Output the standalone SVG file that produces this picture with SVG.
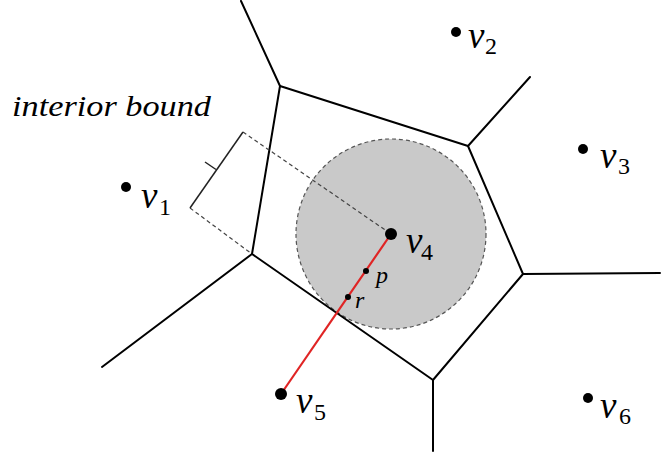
<svg xmlns="http://www.w3.org/2000/svg" width="662" height="455" viewBox="0 0 662 455">
<style>
.edge{stroke:#000;stroke-width:2;fill:none;stroke-linecap:round;stroke-linejoin:round}
.dash{stroke:#444;stroke-width:1.2;fill:none;stroke-dasharray:4 3}
.brk{stroke:#222;stroke-width:1.5;fill:none}
.red{stroke:#e02424;stroke-width:2.2;fill:none}
.v{font-family:"Liberation Serif","DejaVu Serif",serif;font-style:italic;font-size:37px;fill:#000}
.s{font-family:"Liberation Serif","DejaVu Serif",serif;font-size:24px;fill:#000}
.l{font-family:"Liberation Serif","DejaVu Serif",serif;font-style:italic;font-size:24px;fill:#000}
.t{font-family:"Liberation Serif","DejaVu Serif",serif;font-style:italic;font-size:29px;fill:#000}
.dot{fill:#000}
</style>
<rect width="662" height="455" fill="#fff"/>
<g id="interior-disk">
<circle cx="391" cy="234" r="95" fill="#c9c9c9" stroke="#555" stroke-width="1.2" stroke-dasharray="4 3"/>
</g>
<g id="connectors">
<polygon class="edge" points="280,86 468,146 523,274 433,380 252,254"/>
<line class="edge" x1="280" y1="86" x2="241" y2="1"/>
<line class="edge" x1="468" y1="146" x2="530" y2="77"/>
<line class="edge" x1="523" y1="274" x2="660" y2="273"/>
<line class="edge" x1="433" y1="380" x2="433" y2="451"/>
<line class="edge" x1="252" y1="254" x2="102" y2="367"/>
<line class="dash" x1="243" y1="132" x2="391" y2="234"/>
<line class="dash" x1="190" y1="208" x2="252" y2="254"/>
<polyline class="brk" points="243,132 190,208"/>
<line class="brk" x1="216" y1="169.5" x2="205" y2="162"/>
<line class="red" x1="391" y1="234" x2="281" y2="394"/>
</g>
<g id="label-interior-bound"><text class="t" x="12" y="116" textLength="199" lengthAdjust="spacingAndGlyphs">interior bound</text></g>
<g id="v1"><circle class="dot" cx="126" cy="187" r="5"/><text class="v" x="141" y="208">v</text><text class="s" x="159" y="215">1</text></g>
<g id="v2"><circle class="dot" cx="456" cy="32" r="5"/><text class="v" x="468" y="48">v</text><text class="s" x="485" y="54">2</text></g>
<g id="v3"><circle class="dot" cx="583" cy="149" r="5"/><text class="v" x="600" y="168">v</text><text class="s" x="618" y="174">3</text></g>
<g id="v4"><circle class="dot" cx="391" cy="234" r="6"/><text class="v" x="406" y="253">v</text><text class="s" x="421" y="260">4</text></g>
<g id="v5"><circle class="dot" cx="281" cy="394" r="6"/><text class="v" x="296" y="413">v</text><text class="s" x="314" y="420">5</text></g>
<g id="v6"><circle class="dot" cx="588" cy="398" r="5"/><text class="v" x="600" y="418">v</text><text class="s" x="619" y="424">6</text></g>
<g id="p"><circle class="dot" cx="366" cy="271" r="3"/><text class="l" x="376" y="283">p</text></g>
<g id="r"><circle class="dot" cx="348" cy="297" r="3"/><text class="l" x="355" y="308">r</text></g>
</svg>
